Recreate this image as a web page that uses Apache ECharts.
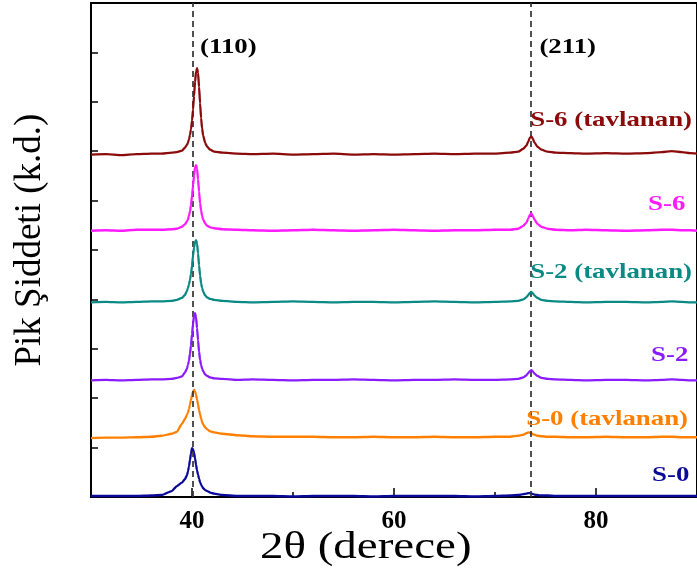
<!DOCTYPE html>
<html>
<head>
<meta charset="utf-8">
<script src="https://cdn.jsdelivr.net/npm/echarts@6/dist/echarts.min.js"></script>
<style>
  html, body { margin: 0; padding: 0; background: #fff; }
  #chart { width: 697px; height: 581px; }
</style>
</head>
<body>
<div id="chart"></div>
<script>
// 2θ sampling points (degrees)
const twoTheta = [30, 31.5, 33, 34.5, 36, 37,
  38, 38.5, 39, 39.3, 39.5, 39.6, 39.7, 39.8, 39.9, 40, 40.1, 40.2, 40.3, 40.4, 40.5, 40.6, 40.7, 40.8, 40.9, 41, 41.1, 41.3, 41.5, 41.8, 42.2, 43,
  44.5, 46, 48, 50, 52, 54, 56, 58, 60, 62, 64, 66, 68, 70,
  71.5, 72.3, 72.8, 73.1, 73.3, 73.45, 73.6, 73.75, 73.9, 74.2, 74.6, 75.2, 76, 77.5, 79, 81, 83, 85, 86.5, 87.5, 88.5, 89.3, 90];

// Offset intensities (arbitrary units) for each sample
const s6Annealed = [6.93, 6.94, 6.92, 6.94, 6.95, 6.95,
  6.97, 6.98, 7.01, 7.07, 7.13, 7.17, 7.24, 7.33, 7.44, 7.62, 7.84, 8.12, 8.40, 8.61, 8.68, 8.58, 8.30, 7.97, 7.67, 7.46, 7.32, 7.17, 7.09, 7.03, 6.99, 6.97,
  6.95, 6.94, 6.95, 6.93, 6.94, 6.95, 6.93, 6.94, 6.93, 6.94, 6.95, 6.94, 6.95, 6.95,
  6.97, 6.99, 7.05, 7.11, 7.20, 7.27, 7.30, 7.25, 7.18, 7.09, 7.03, 6.99, 6.97, 6.96, 6.95, 6.96, 6.95, 6.96, 6.98, 7.00, 6.98, 6.96, 6.95];

const s6 = [5.39, 5.40, 5.39, 5.41, 5.41, 5.41,
  5.42, 5.43, 5.47, 5.52, 5.58, 5.62, 5.70, 5.78, 5.91, 6.09, 6.30, 6.51, 6.67, 6.72, 6.64, 6.43, 6.18, 5.95, 5.80, 5.69, 5.62, 5.54, 5.49, 5.46, 5.44, 5.42,
  5.41, 5.40, 5.39, 5.40, 5.41, 5.40, 5.39, 5.40, 5.41, 5.40, 5.39, 5.40, 5.40, 5.41,
  5.41, 5.43, 5.49, 5.55, 5.64, 5.71, 5.74, 5.69, 5.62, 5.53, 5.47, 5.43, 5.41, 5.40, 5.41, 5.40, 5.39, 5.40, 5.41, 5.41, 5.40, 5.40, 5.39];

const s2Annealed = [3.94, 3.95, 3.94, 3.95, 3.96, 3.96,
  3.97, 3.99, 4.03, 4.09, 4.17, 4.23, 4.30, 4.40, 4.51, 4.68, 4.88, 5.05, 5.16, 5.20, 5.13, 4.93, 4.69, 4.48, 4.33, 4.23, 4.16, 4.08, 4.04, 4.01, 3.99, 3.97,
  3.95, 3.94, 3.95, 3.96, 3.95, 3.94, 3.95, 3.95, 3.94, 3.95, 3.96, 3.95, 3.94, 3.95,
  3.96, 3.97, 4.00, 4.04, 4.09, 4.13, 4.15, 4.12, 4.08, 4.03, 3.99, 3.97, 3.96, 3.95, 3.94, 3.95, 3.95, 3.94, 3.95, 3.96, 3.95, 3.94, 3.94];

const s2 = [2.36, 2.37, 2.36, 2.37, 2.38, 2.38,
  2.39, 2.41, 2.44, 2.52, 2.60, 2.67, 2.76, 2.90, 3.07, 3.29, 3.50, 3.67, 3.72, 3.64, 3.42, 3.17, 2.94, 2.78, 2.67, 2.60, 2.55, 2.48, 2.45, 2.42, 2.40, 2.39,
  2.37, 2.38, 2.37, 2.36, 2.37, 2.37, 2.38, 2.37, 2.36, 2.37, 2.37, 2.38, 2.37, 2.37,
  2.38, 2.39, 2.42, 2.46, 2.51, 2.55, 2.57, 2.54, 2.50, 2.45, 2.41, 2.39, 2.38, 2.37, 2.36, 2.37, 2.37, 2.36, 2.37, 2.38, 2.37, 2.36, 2.36];

const s0Annealed = [1.19, 1.20, 1.20, 1.21, 1.22, 1.24,
  1.28, 1.32, 1.48, 1.58, 1.66, 1.71, 1.78, 1.87, 1.97, 2.06, 2.13, 2.17, 2.14, 2.07, 1.97, 1.87, 1.76, 1.67, 1.59, 1.52, 1.47, 1.41, 1.37, 1.33, 1.31, 1.28,
  1.25, 1.23, 1.22, 1.22, 1.22, 1.21, 1.21, 1.22, 1.21, 1.21, 1.22, 1.21, 1.21, 1.22,
  1.22, 1.24, 1.26, 1.29, 1.31, 1.30, 1.29, 1.27, 1.26, 1.24, 1.23, 1.22, 1.22, 1.21, 1.21, 1.22, 1.21, 1.21, 1.22, 1.22, 1.21, 1.21, 1.21];

const s0 = [0.02, 0.02, 0.02, 0.02, 0.03, 0.04,
  0.12, 0.22, 0.29, 0.36, 0.44, 0.52, 0.62, 0.75, 0.88, 0.99, 0.96, 0.90, 0.78, 0.65, 0.54, 0.45, 0.37, 0.30, 0.25, 0.21, 0.18, 0.14, 0.12, 0.09, 0.07, 0.04,
  0.02, 0.02, 0.02, 0.01, 0.02, 0.02, 0.02, 0.01, 0.02, 0.02, 0.02, 0.02, 0.01, 0.02,
  0.03, 0.04, 0.06, 0.07, 0.08, 0.08, 0.07, 0.06, 0.05, 0.04, 0.03, 0.03, 0.02, 0.02, 0.02, 0.02, 0.02, 0.02, 0.02, 0.02, 0.02, 0.02, 0.02];

// Reflection positions marked with dashed guides
const reflections = [40.12, 73.55];
const reflectionNames = ['(110)', '(211)'];

// Axis tick values
const majorTicks = [40, 60, 80];
const minorTicks = [30, 50, 70, 90];

const curves = [
  { name: 'S-0',            values: s0,         color: '#0a0a9a' },
  { name: 'S-0 (tavlanan)', values: s0Annealed, color: '#ff8000' },
  { name: 'S-2',            values: s2,         color: '#8a1aff' },
  { name: 'S-2 (tavlanan)', values: s2Annealed, color: '#0a8a85' },
  { name: 'S-6',            values: s6,         color: '#ff1aff' },
  { name: 'S-6 (tavlanan)', values: s6Annealed, color: '#8b0a0a' }
];

// Where each caption sits, in data units [2θ, intensity]
const captionAnchors = {
  'S-0': [87.4, 0.44],
  'S-0 (tavlanan)': [81.1, 1.58],
  'S-2': [87.3, 2.87],
  'S-2 (tavlanan)': [81.5, 4.55],
  'S-6': [87.0, 5.93],
  'S-6 (tavlanan)': [81.5, 7.63],
  '(110)': [43.6, 9.1],
  '(211)': [77.2, 9.1]
};

const serif = '"Liberation Serif", "Times New Roman", serif';

const chart = echarts.init(document.getElementById('chart'), null, { renderer: 'canvas' });

const series = curves.map((c, k) => ({
  name: c.name,
  type: 'line',
  data: twoTheta.map((t, i) => [t, c.values[i]]),
  showSymbol: false,
  smooth: 0.2,
  smoothMonotone: 'x',
  lineStyle: { color: c.color, width: 2.3 },
  z: 3 + k,
  animation: false
}));

// dashed guide lines at the two reflections
series.push({
  type: 'line',
  data: [],
  animation: false,
  markLine: {
    silent: true,
    symbol: ['none', 'none'],
    label: { show: false },
    lineStyle: { color: '#333333', type: [6, 4], width: 1.7 },
    data: reflections.map(v => ({ xAxis: v }))
  },
  z: 2
});

chart.setOption({
  animation: false,
  backgroundColor: '#ffffff',
  grid: {
    left: 91, top: 3, right: -2, bottom: 84,
    show: true, borderColor: '#000', borderWidth: 2
  },
  xAxis: [{
    type: 'value', min: 30, max: 90,
    axisLine: { show: true, onZero: false, lineStyle: { color: '#000', width: 2 } },
    axisTick: { show: true, inside: true, length: 9, customValues: majorTicks, lineStyle: { color: '#000', width: 1.5 } },
    axisLabel: {
      show: true, customValues: majorTicks, margin: 12,
      color: '#000', fontFamily: serif, fontWeight: 'bold', fontSize: 25
    },
    splitLine: { show: false }
  }, {
    type: 'value', min: 30, max: 90, position: 'bottom',
    axisLine: { show: false },
    axisTick: { show: true, inside: true, length: 5, customValues: minorTicks, lineStyle: { color: '#000', width: 1.5 } },
    axisLabel: { show: false },
    splitLine: { show: false }
  }],
  yAxis: {
    type: 'value', min: 0, max: 10, interval: 1,
    axisLine: { show: true, lineStyle: { color: '#000', width: 2 } },
    axisTick: { show: true, inside: true, length: 7, lineStyle: { color: '#000', width: 1.5 } },
    axisLabel: { show: false },
    splitLine: { show: false }
  },
  series: series
});

// captions and axis titles, anchored through the axes
function place(key) {
  return chart.convertToPixel({ gridIndex: 0 }, captionAnchors[key]);
}
const graphics = [];
curves.forEach(c => {
  const p = place(c.name);
  graphics.push({
    type: 'text', x: p[0], y: p[1], scaleX: 1.22, scaleY: 1,
    style: {
      text: c.name, fill: c.color, font: 'bold 22px ' + serif,
      textAlign: 'center', textVerticalAlign: 'middle'
    },
    z: 20
  });
});
reflectionNames.forEach(n => {
  const p = place(n);
  graphics.push({
    type: 'text', x: p[0], y: p[1], scaleX: 1.22, scaleY: 1,
    style: {
      text: n, fill: '#000', font: 'bold 22px ' + serif,
      textAlign: 'center', textVerticalAlign: 'middle'
    },
    z: 20
  });
});
const xTitleAt = chart.convertToPixel({ gridIndex: 0 }, [57.2, 0]);
graphics.push({
  type: 'text', x: xTitleAt[0], y: 548, scaleX: 1.27,
  style: {
    text: '2θ (derece)', fill: '#000', font: '37px ' + serif,
    textAlign: 'center', textVerticalAlign: 'middle'
  }
});
const yTitleAt = chart.convertToPixel({ gridIndex: 0 }, [30, 5.2]);
graphics.push({
  type: 'text', x: 30, y: yTitleAt[1], rotation: Math.PI / 2,
  style: {
    text: 'Pik Şiddeti (k.d.)', fill: '#000', font: '37px ' + serif,
    textAlign: 'center', textVerticalAlign: 'middle'
  }
});
chart.setOption({ graphic: graphics });
</script>
</body>
</html>
